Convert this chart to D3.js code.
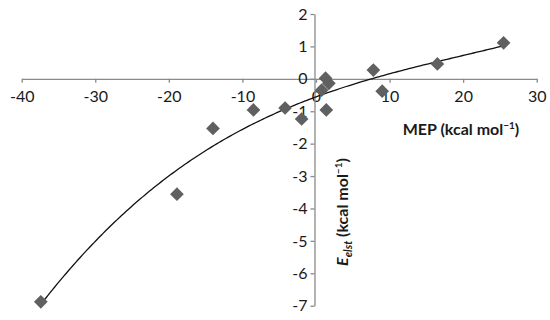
<!DOCTYPE html>
<html><head><meta charset="utf-8">
<script src="https://cdn.jsdelivr.net/npm/d3@7"></script>
<style>body{margin:0;background:#fff}svg{display:block}text{font-family:Lato,"Open Sans",sans-serif}</style>
</head><body>
<script>
const mep   = [-37.4, -18.9, -14.0, -8.5, -4.2, -1.95, 0.77, 1.3, 1.75, 1.4, 7.8, 9.0, 16.5, 25.5];
const eelst = [-6.88, -3.56, -1.53, -0.96, -0.9, -1.24, -0.35, 0.02, -0.14, -0.96, 0.27, -0.38, 0.46, 1.11];
const xTicks = [-40, -30, -20, -10, 0, 10, 20, 30];
const yTicks = [2, 1, 0, -1, -2, -3, -4, -5, -6, -7];
const trendDegree = 3;

const W = 550, H = 320;
const svg = d3.select("body").append("svg").attr("width", W).attr("height", H);
const x = d3.scaleLinear().domain([-40, 30]).range([21.7, 536.7]);
const y = d3.scaleLinear().domain([2, -7]).range([14, 305.7]);
const axisColor = "#8a8a8a", textColor = "#1a1a1a";

function polyfit(xs, ys, deg) {
  const n = deg + 1;
  const A = Array.from({length: n}, () => new Array(n + 1).fill(0));
  for (let i = 0; i < xs.length; i++) {
    for (let r = 0; r < n; r++) {
      for (let c = 0; c < n; c++) A[r][c] += Math.pow(xs[i], r + c);
      A[r][n] += ys[i] * Math.pow(xs[i], r);
    }
  }
  for (let p = 0; p < n; p++) {
    let m = p;
    for (let r = p + 1; r < n; r++) if (Math.abs(A[r][p]) > Math.abs(A[m][p])) m = r;
    [A[p], A[m]] = [A[m], A[p]];
    for (let r = 0; r < n; r++) if (r !== p) {
      const f = A[r][p] / A[p][p];
      for (let c = p; c <= n; c++) A[r][c] -= f * A[p][c];
    }
  }
  return A.map((row, i) => row[n] / row[i]);
}
const coef = polyfit(mep, eelst, trendDegree);
const f = v => coef.reduce((s, c, i) => s + c * Math.pow(v, i), 0);

const xAxis = d3.axisBottom(x).tickValues(xTicks).tickSize(4).tickSizeOuter(0).tickFormat(d => String(d));
const gx = svg.append("g").attr("transform", `translate(0,${y(0)})`).call(xAxis);
gx.select(".domain").attr("stroke", axisColor).attr("stroke-width", 1.3);
gx.selectAll(".tick line").attr("stroke", axisColor).attr("stroke-width", 1.3);
gx.selectAll(".tick text").attr("fill", textColor).attr("font-size", 16).attr("dy", "1.05em").attr("y", 6);

const yAxis = d3.axisLeft(y).tickValues(yTicks).tickSize(4).tickSizeOuter(0).tickFormat(d => String(d));
const gy = svg.append("g").attr("transform", `translate(${x(0) - 1.5},0)`).call(yAxis);
gy.select(".domain").attr("stroke", axisColor).attr("stroke-width", 1.3);
gy.selectAll(".tick line").attr("stroke", axisColor).attr("stroke-width", 1.3);
gy.selectAll(".tick text").attr("fill", textColor).attr("font-size", 16).attr("x", -7);

const xs = d3.range(0, 201).map(i => d3.min(mep) + (d3.max(mep) - d3.min(mep)) * i / 200);
svg.append("path")
  .attr("d", d3.line().x(d => x(d)).y(d => y(f(d)))(xs))
  .attr("fill", "none").attr("stroke", "#111").attr("stroke-width", 1.3);

svg.append("g").selectAll("path").data(mep.map((m, i) => [m, eelst[i]])).join("path")
  .attr("d", d3.symbol(d3.symbolDiamond2, 120)())
  .attr("transform", d => `translate(${x(d[0])},${y(d[1])})`)
  .attr("fill", "#606060");

const xt = svg.append("text").attr("x", 461).attr("y", 135).attr("text-anchor", "middle")
  .attr("font-size", 16).attr("font-weight", "bold").attr("fill", textColor);
xt.append("tspan").text("MEP (kcal mol");
xt.append("tspan").attr("font-size", 10).attr("dy", -6).text("−1");
xt.append("tspan").attr("dy", 6).text(")");

const yt = svg.append("text").attr("transform", "translate(348,212) rotate(-90)").attr("text-anchor", "middle")
  .attr("font-size", 16).attr("font-weight", "bold").attr("fill", textColor);
yt.append("tspan").attr("font-style", "italic").text("E");
yt.append("tspan").attr("font-style", "italic").attr("font-size", 11).attr("dy", 4).text("elst");
yt.append("tspan").attr("dy", -4).text(" (kcal mol");
yt.append("tspan").attr("font-size", 10).attr("dy", -6).text("−1");
yt.append("tspan").attr("dy", 6).text(")");
</script>
</body></html>
